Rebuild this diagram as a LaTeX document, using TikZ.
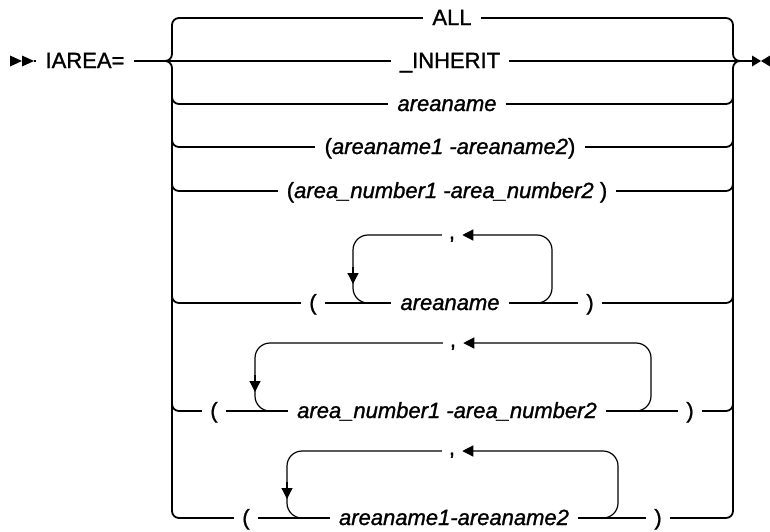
\documentclass[tikz,border=0pt]{standalone}
\usepackage{fontspec}
\setmainfont{Liberation Sans}[FakeBold=1.2]
\usetikzlibrary{arrows.meta}
\begin{document}
\begin{tikzpicture}[x=1pt,y=-1pt,
  ln/.style={line width=1.2pt},
  railln/.style={line width=1.8pt, rounded corners=7pt},
  looppath/.style={line width=1.2pt, rounded corners=15pt},
  lbl/.style={font=\fontsize{22}{26}\selectfont, text height=14pt, text depth=0pt, inner ysep=0pt, inner xsep=9pt},
  commalbl/.style={font=\fontsize{22}{26}\selectfont, text height=8pt, text depth=0pt, inner ysep=0pt, inner xsep=7pt},
  paren/.style={lbl, inner xsep=8pt},
  arrowtip/.style={-{Triangle[length=11pt,width=11pt]}},
]
\useasboundingbox (0,0) rectangle (770,531);

% start symbol
\fill (10,55.5) -- (22,61) -- (10,66.5) -- cycle;
\fill (22,55.5) -- (34,61) -- (22,66.5) -- cycle;
\coordinate (start) at (34,61);
\node[lbl] (iarea) at (85,61) {IAREA=};
\draw[ln] (start) -- (iarea.west);

% end symbol
\coordinate (endp) at (752,61);
\fill (752,55.5) -- (761,61) -- (752,66.5) -- cycle;
\fill (770,55.5) -- (761,61) -- (770,66.5) -- cycle;

% row start / end coordinates
\foreach \n/\y in {1/18,3/104,4/147,5/191,6/303,7/411,8/518}{
  \coordinate (l\n) at (179,\y);
  \coordinate (r\n) at (726,\y);
}

% rails
\draw[railln] (179,18) -- (172,18) -- (172,61) -- (165,61);
\draw[railln] (165,61) -- (172,61) -- (172,518) -- (179,518);
\draw[railln] (726,18) -- (733,18) -- (733,61) -- (740,61);
\draw[railln] (740,61) -- (733,61) -- (733,518) -- (726,518);
\foreach \y in {104,147,191,303,411}{
  \draw[railln] (172,\y-12) -- (172,\y) -- (179,\y);
  \draw[railln] (726,\y) -- (733,\y) -- (733,\y-12);
}

% simple rows
\node[lbl] (all) at (452,18) {ALL};
\node[lbl] (inherit) at (450,61) {\_INHERIT};
\node[lbl] (an) at (447,104) {\itshape areaname};
\node[lbl] (rng) at (450,147) {(\textit{areaname1 -areaname2})};
\node[lbl] (num) at (447,191) {(\textit{area\_number1 -area\_number2} )};

\draw[ln] (l1) -- (all.west);  \draw[ln] (all.east) -- (r1);
\draw[ln] (iarea.east) -- (inherit.west); \draw[ln] (inherit.east) -- (endp);
\draw[ln] (l3) -- (an.west);   \draw[ln] (an.east) -- (r3);
\draw[ln] (l4) -- (rng.west);  \draw[ln] (rng.east) -- (r4);
\draw[ln] (l5) -- (num.west);  \draw[ln] (num.east) -- (r5);

% loop row 1
\node[paren] (p1) at (313,303) {(};
\node[lbl] (t1) at (450,303) {\itshape areaname};
\node[paren] (q1) at (590,303) {)};
\node[commalbl] (c1) at (452,235) {,};
\draw[ln] (l6) -- (p1.west); \draw[ln] (p1.east) -- (t1.west);
\draw[ln] (t1.east) -- (q1.west); \draw[ln] (q1.east) -- (r6);
\draw[looppath, arrowtip] (532,303) -- (552,303) -- (552,235) -- (c1.east);
\draw[looppath] (c1.west) -- (353,235) -- (353,303) -- (373,303);
\draw[ln, arrowtip] (353,267) -- (353,284);

% loop row 2
\node[paren] (p2) at (214,411) {(};
\node[lbl] (t2) at (447,411) {\itshape area\_number1 -area\_number2};
\node[paren] (q2) at (690,411) {)};
\node[commalbl] (c2) at (453,343) {,};
\draw[ln] (l7) -- (p2.west); \draw[ln] (p2.east) -- (t2.west);
\draw[ln] (t2.east) -- (q2.west); \draw[ln] (q2.east) -- (r7);
\draw[looppath, arrowtip] (631,411) -- (651,411) -- (651,343) -- (c2.east);
\draw[looppath] (c2.west) -- (255,343) -- (255,411) -- (275,411);
\draw[ln, arrowtip] (255,375) -- (255,392);

% loop row 3
\node[paren] (p3) at (246,518) {(};
\node[lbl] (t3) at (454,518) {\itshape areaname1-areaname2};
\node[paren] (q3) at (658,518) {)};
\node[commalbl] (c3) at (452,451) {,};
\draw[ln] (l8) -- (p3.west); \draw[ln] (p3.east) -- (t3.west);
\draw[ln] (t3.east) -- (q3.west); \draw[ln] (q3.east) -- (r8);
\draw[looppath, arrowtip] (598,518) -- (618,518) -- (618,451) -- (c3.east);
\draw[looppath] (c3.west) -- (287,451) -- (287,518) -- (307,518);
\draw[ln, arrowtip] (287,482) -- (287,499);
\end{tikzpicture}
\end{document}
